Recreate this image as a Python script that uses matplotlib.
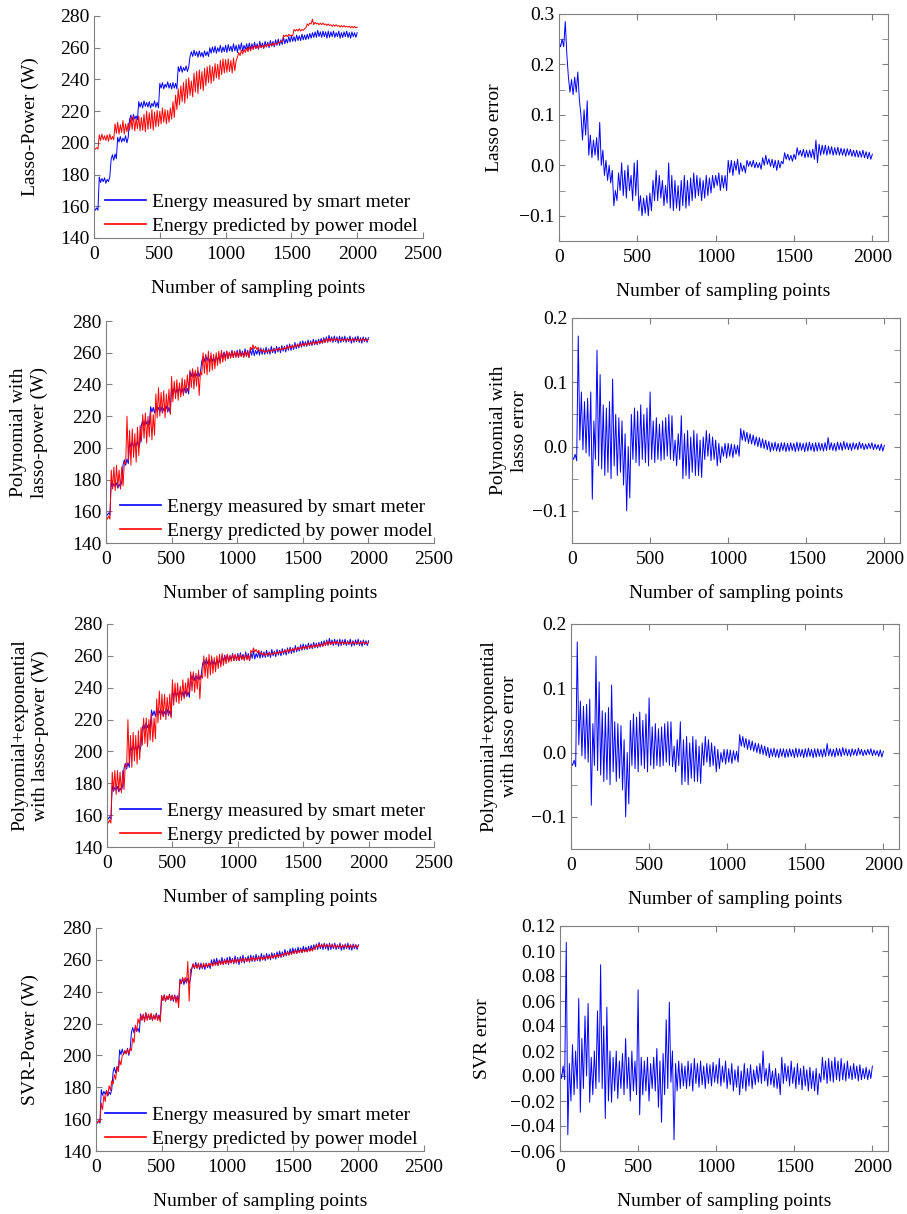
import matplotlib.pyplot as plt
import numpy as np

plt.rcParams['font.family'] = ['Liberation Serif', 'DejaVu Serif']

# Every series is read off the picture as an upper trace (at 0, 20, ... 2000)
# and a lower trace (at 10, 30, ... 1990) of its noisy band.
samples = np.arange(0, 2001, 10)

measured_hi = [
    159.5, 159, 178.5, 177.5, 178, 177, 178.5, 192.5, 193, 203.5,
    204, 203, 204.5, 203.5, 217.5, 218, 217, 226, 225.5, 226.5,
    225.5, 226, 225, 226.5, 225.5, 237.5, 238, 237, 238.5, 237.5,
    238, 237.5, 248, 248.5, 247.5, 248.5, 248, 257.5, 258.5, 257.5,
    258, 257, 258, 257.5, 260, 260.5, 261, 260, 261.5, 260.5,
    261.5, 262, 261, 262.5, 261.5, 262, 263, 261.5, 262.5, 263,
    262.5, 263.5, 262.5, 264, 263, 264, 263.5, 264.5, 264, 265,
    265.5, 265, 266.5, 265.5, 267, 267.5, 267, 268, 267.5, 268.5,
    268, 268.5, 269, 269.5, 270, 271, 270, 270.5, 270, 270.5,
    270, 270.5, 269.5, 270.5, 269.5, 270, 270.5, 269.5, 270, 269.5,
    269.5]
measured_lo = [
    157.5, 157.5, 175, 175.5, 174.5, 175.5, 189.5, 189, 190, 200.5,
    200.5, 201, 200, 214.5, 214, 215, 214.5, 222.5, 222, 223,
    222.5, 222, 223, 222.5, 222, 234.5, 234, 235, 234.5, 234,
    234.5, 234, 245, 244.5, 245.5, 245, 254.5, 254.5, 255, 254,
    254.5, 254, 255, 254.5, 256.5, 257, 256.5, 257.5, 257, 257.5,
    257, 258, 257.5, 258, 257, 258.5, 258, 259, 258.5, 259,
    259, 259.5, 259, 260, 259.5, 260.5, 260, 261, 260.5, 261.5,
    261.5, 262, 262.5, 263, 263.5, 264, 264, 264.5, 264.5, 265,
    265, 265.5, 266, 266.5, 266.5, 267, 266.5, 267, 266, 266.5,
    267, 266.5, 267, 266, 266.5, 267, 266.5, 266, 267, 266.5]

lasso_pred_hi = [
    197, 197, 205, 205.5, 204.5, 205, 205.5, 204, 212, 213,
    211.5, 214, 212, 212.5, 216, 217, 215.5, 217, 216, 218,
    220, 219, 221, 219.5, 220.5, 220, 222, 221, 220.5, 222,
    226, 230, 234, 236, 238, 240, 241, 239, 244, 245,
    246, 245, 247, 248, 249, 248, 250, 249.5, 252, 253,
    252.5, 253, 252, 253.5, 252, 257, 258.5, 259, 260, 260.5,
    261, 261.5, 261, 262, 261.5, 262, 262.5, 262.5, 263, 263,
    263.5, 264.5, 268, 268, 268.5, 268, 271.5, 271.5, 272, 271.5,
    272, 275, 275.5, 278, 276, 275.5, 275.5, 275.5, 275, 275,
    274.5, 274.5, 274.5, 274, 274, 274, 273.5, 273.5, 273.5, 273.5,
    273]
lasso_pred_lo = [
    196, 196, 201.5, 202, 201.5, 201, 202, 202, 206, 205.5,
    206.5, 205.5, 207, 208, 208.5, 207.5, 209, 207.5, 208, 207,
    208.5, 209, 208, 210, 210.5, 212, 213, 212, 213, 215,
    216, 221, 224, 226, 225, 228, 230, 229, 232, 231,
    234, 233, 236, 238, 237.5, 239, 241, 240, 243, 244,
    244.5, 245, 244, 245.5, 254, 255, 256, 257, 257.5, 258,
    259, 259.5, 259.5, 260, 260, 260.5, 261, 261, 261.5, 262,
    263, 263.5, 267, 267, 267.5, 267.5, 270.5, 270.5, 270.5, 271,
    272.5, 274, 275, 274.5, 275, 274.5, 274.5, 274.5, 274, 274,
    273.5, 273.5, 273.5, 273, 273, 273, 273, 272.5, 272.5, 272.5]

poly_pred_hi = [
    157, 157, 186, 188, 189, 186, 188, 191, 220, 211,
    212, 209, 213, 214, 221, 222, 220, 223, 221, 234,
    238, 235, 236, 234, 237, 245, 242, 243, 241, 244,
    243, 246, 249, 250, 249, 251, 248, 260, 259, 261,
    260, 259, 260, 261, 261.5, 260, 261, 260.5, 261, 261,
    260.5, 261, 260, 261, 260.5, 263.5, 265, 264, 263.5, 262,
    262, 261.5, 262, 261.5, 262.5, 262.5, 263, 263, 263.5, 264,
    264.5, 264.5, 265, 265.5, 265.5, 266, 266, 266.5, 266.5, 267,
    267, 267.5, 267.5, 268.5, 269, 269, 269, 269, 269, 268.5,
    269, 268.5, 269, 268.5, 269, 268.5, 269, 268.5, 269, 268.5,
    268.5]
poly_pred_lo = [
    155, 155, 174, 173, 175, 174, 176, 190, 192, 189,
    194, 191, 195, 204, 206, 203, 207, 205, 208, 219,
    220, 222, 219, 223, 221, 229, 231, 230, 232, 233,
    235, 236, 238, 237, 239, 233, 246, 247, 246, 248,
    249, 250, 252, 253, 254, 255, 256, 256.5, 257, 257,
    257, 257.5, 257, 257.5, 257, 262, 262.5, 262, 261, 260.5,
    260, 260.5, 260.5, 261, 261, 261.5, 261.5, 262, 262, 262.5,
    263, 263, 263.5, 264, 264, 264.5, 264.5, 265, 265, 265.5,
    265.5, 266, 266, 266.5, 267, 267, 267.5, 267.5, 267.5, 267.5,
    267.5, 267.5, 267.5, 267.5, 267.5, 267.5, 267.5, 267.5, 267.5, 267.5]

poly_exp_pred_hi = [
    157, 157, 187, 188, 188, 187, 188, 192, 220, 210,
    212, 210, 213, 215, 221, 221, 220, 224, 221, 233,
    238, 236, 236, 234, 236, 245, 243, 243, 241, 245,
    243, 246, 250, 250, 249, 251, 248, 260, 259, 261,
    260, 259, 260, 261, 261.5, 260, 261, 260.5, 261, 261,
    260.5, 261, 260, 261, 260.5, 263.5, 265, 264, 263.5, 262,
    262, 261.5, 262, 261.5, 262.5, 262.5, 263, 263, 263.5, 264,
    264.5, 264.5, 265, 265.5, 265.5, 266, 266, 266.5, 266.5, 267,
    267, 267.5, 267.5, 268.5, 269, 269, 269, 269, 269, 268.5,
    269, 268.5, 269, 268.5, 269, 268.5, 269, 268.5, 269, 268.5,
    268.5]
poly_exp_pred_lo = [
    155, 155, 175, 173, 175, 174, 176, 190, 192, 190,
    194, 192, 195, 204, 205, 203, 207, 206, 208, 218,
    220, 222, 220, 223, 221, 229, 231, 230, 232, 233,
    235, 236, 238, 237, 239, 233, 246, 247, 246, 248,
    249, 250, 252, 253, 254, 255, 256, 256.5, 257, 257,
    257, 257.5, 257, 257.5, 257, 262, 262.5, 262, 261, 260.5,
    260, 260.5, 260.5, 261, 261, 261.5, 261.5, 262, 262, 262.5,
    263, 263, 263.5, 264, 264, 264.5, 264.5, 265, 265, 265.5,
    265.5, 266, 266, 266.5, 267, 267, 267.5, 267.5, 267.5, 267.5,
    267.5, 267.5, 267.5, 267.5, 267.5, 267.5, 267.5, 267.5, 267.5, 267.5]

svr_pred_hi = [
    158.5, 159, 170, 175, 178, 181, 184, 188, 193, 197,
    200, 203, 204, 204.5, 211, 219, 223, 225, 226, 227,
    226, 226.5, 225.5, 226, 225, 237.5, 238, 237.5, 238, 238,
    237.5, 237, 247, 249, 249, 259, 254, 257.5, 257, 258,
    257, 258, 257.5, 258, 258, 259, 258.5, 259.5, 259.5, 260,
    260, 260, 260.5, 260.5, 260.5, 261, 261, 261, 261, 261.5,
    261.5, 261.5, 262, 262, 262, 262.5, 262.5, 263, 263, 263.5,
    263.5, 264, 264.5, 265, 265, 265.5, 266, 266, 266.5, 266.5,
    266.5, 267, 267, 268, 269.5, 270, 269.5, 270, 269.5, 269.5,
    269.5, 269.5, 269, 269.5, 269, 269.5, 269, 269.5, 269, 269.5,
    269]
svr_pred_lo = [
    157.5, 158, 166, 171, 175, 178, 182, 185, 190, 194,
    200.5, 201, 201, 203, 208, 215, 220, 222, 221, 222,
    222.5, 222, 222.5, 222, 221, 234.5, 234, 235, 234.5, 235,
    233, 230, 245, 246, 245.5, 234, 254.5, 255, 254.5, 255,
    255, 255.5, 255.5, 256, 256, 256.5, 256.5, 257, 257, 257.5,
    257.5, 258, 258, 258, 258.5, 258.5, 259, 259, 259, 259.5,
    259.5, 260, 260, 260, 260.5, 260.5, 261, 261, 261.5, 261.5,
    262, 262.5, 263, 263, 263.5, 264, 264, 264.5, 264.5, 265,
    265, 265.5, 265.5, 266.5, 267.5, 268, 268, 268, 268, 268,
    268, 267.5, 268, 267.5, 268, 267.5, 268, 267.5, 268, 267.5]

lasso_err_hi = [
    0.245, 0.25, 0.285, 0.175, 0.17, 0.175, 0.185, 0.1, 0.11, 0.128,
    0.06, 0.05, 0.055, 0.085, 0.03, 0.01, 0.0, -0.01, -0.05, -0.015,
    0.005, -0.01, 0.0, -0.02, 0.005, 0.01, -0.06, -0.065, -0.06, -0.055,
    -0.03, -0.01, -0.02, -0.03, -0.04, 0.005, -0.02, -0.03, -0.04, -0.03,
    -0.02, -0.03, -0.025, -0.015, -0.02, -0.025, -0.03, -0.02, -0.025, -0.02,
    -0.02, -0.015, -0.02, -0.02, 0.01, 0.01, 0.008, 0.012, 0.005, 0.0,
    0.01, 0.008, 0.01, 0.006, 0.005, 0.015, 0.02, 0.013, 0.012, 0.01,
    0.01, 0.008, 0.025, 0.022, 0.02, 0.022, 0.035, 0.03, 0.032, 0.03,
    0.03, 0.032, 0.05, 0.042, 0.04, 0.04, 0.038, 0.037, 0.035, 0.036,
    0.034, 0.033, 0.033, 0.032, 0.03, 0.03, 0.028, 0.03, 0.027, 0.026,
    0.022]
lasso_err_lo = [
    0.235, 0.235, 0.22, 0.145, 0.14, 0.145, 0.13, 0.05, 0.06, 0.02,
    0.015, 0.02, 0.01, 0.0, -0.02, -0.03, -0.035, -0.08, -0.07, -0.05,
    -0.06, -0.065, -0.05, -0.07, -0.06, -0.09, -0.1, -0.095, -0.1, -0.09,
    -0.07, -0.07, -0.065, -0.08, -0.075, -0.085, -0.09, -0.085, -0.09, -0.08,
    -0.085, -0.08, -0.07, -0.065, -0.06, -0.07, -0.065, -0.06, -0.055, -0.045,
    -0.04, -0.05, -0.045, -0.05, -0.015, -0.02, -0.01, -0.018, -0.012, -0.015,
    -0.002, -0.003, -0.005, -0.005, -0.008, 0.0, 0.002, -0.002, -0.005, -0.01,
    -0.005, 0.003, 0.012, 0.01, 0.008, 0.012, 0.02, 0.018, 0.015, 0.016,
    0.015, 0.012, 0.005, 0.02, 0.022, 0.02, 0.022, 0.02, 0.021, 0.02,
    0.02, 0.018, 0.02, 0.018, 0.017, 0.016, 0.016, 0.015, 0.013, 0.012]

poly_err_hi = [
    -0.015, -0.012, 0.172, 0.085, 0.07, 0.075, 0.085, 0.04, 0.15, 0.112,
    0.065, 0.06, 0.07, 0.105, 0.05, 0.045, 0.04, 0.02, 0.0, 0.05,
    0.06, 0.055, 0.065, 0.05, 0.06, 0.085, 0.04, 0.045, 0.035, 0.04,
    0.045, 0.05, 0.048, 0.01, 0.02, 0.048, 0.02, 0.025, 0.015, 0.025,
    0.02, 0.01, 0.015, 0.025, 0.02, 0.015, 0.01, 0.005, 0.0, 0.005,
    0.005, 0.004, 0.003, 0.002, 0.028, 0.025, 0.022, 0.02, 0.018, 0.015,
    0.014, 0.012, 0.01, 0.008, 0.006, 0.007, 0.005, 0.006, 0.006, 0.005,
    0.006, 0.005, 0.007, 0.006, 0.005, 0.006, 0.007, 0.005, 0.006, 0.006,
    0.005, 0.006, 0.014, 0.006, 0.005, 0.007, 0.006, 0.008, 0.006, 0.005,
    0.006, 0.005, 0.007, 0.005, 0.004, 0.005, 0.006, 0.004, 0.003, 0.004,
    0.002]
poly_err_lo = [
    -0.02, -0.022, 0.01, -0.005, -0.01, -0.015, -0.082, -0.02, -0.03, -0.035,
    -0.045, -0.04, -0.05, -0.03, -0.045, -0.04, -0.06, -0.1, -0.08, -0.02,
    -0.025, -0.03, -0.02, -0.025, -0.03, -0.02, -0.025, -0.02, -0.022, -0.02,
    -0.015, -0.02, -0.022, -0.03, -0.02, -0.05, -0.045, -0.05, -0.04, -0.045,
    -0.045, -0.048, -0.02, -0.015, -0.022, -0.02, -0.03, -0.025, -0.015, -0.018,
    -0.015, -0.017, -0.012, -0.015, 0.01, 0.008, 0.005, 0.004, 0.002, 0.0,
    -0.002, -0.003, -0.005, -0.008, -0.006, -0.007, -0.008, -0.006, -0.008, -0.007,
    -0.006, -0.008, -0.007, -0.006, -0.008, -0.007, -0.006, -0.008, -0.007, -0.006,
    -0.007, -0.006, -0.005, -0.006, -0.007, -0.005, -0.006, -0.004, -0.005, -0.006,
    -0.004, -0.005, -0.003, -0.005, -0.004, -0.003, -0.005, -0.004, -0.006, -0.007]

poly_exp_err_hi = [
    -0.015, -0.012, 0.172, 0.08, 0.072, 0.075, 0.083, 0.045, 0.15, 0.11,
    0.065, 0.062, 0.07, 0.105, 0.048, 0.045, 0.042, 0.02, 0.0, 0.05,
    0.06, 0.055, 0.063, 0.05, 0.06, 0.085, 0.04, 0.045, 0.037, 0.04,
    0.045, 0.048, 0.048, 0.01, 0.02, 0.048, 0.02, 0.025, 0.015, 0.025,
    0.02, 0.01, 0.015, 0.025, 0.02, 0.015, 0.01, 0.005, 0.0, 0.005,
    0.005, 0.004, 0.003, 0.002, 0.028, 0.025, 0.022, 0.02, 0.018, 0.015,
    0.014, 0.012, 0.01, 0.008, 0.006, 0.007, 0.005, 0.006, 0.006, 0.005,
    0.006, 0.005, 0.007, 0.006, 0.005, 0.006, 0.007, 0.005, 0.006, 0.006,
    0.005, 0.006, 0.014, 0.006, 0.005, 0.007, 0.006, 0.008, 0.006, 0.005,
    0.006, 0.005, 0.007, 0.005, 0.004, 0.005, 0.006, 0.004, 0.003, 0.004,
    0.002]
poly_exp_err_lo = [
    -0.02, -0.022, 0.012, -0.005, -0.01, -0.015, -0.082, -0.02, -0.028, -0.035,
    -0.045, -0.042, -0.05, -0.03, -0.045, -0.04, -0.058, -0.1, -0.08, -0.02,
    -0.025, -0.03, -0.02, -0.025, -0.03, -0.02, -0.025, -0.02, -0.022, -0.02,
    -0.015, -0.02, -0.022, -0.03, -0.02, -0.05, -0.045, -0.05, -0.04, -0.045,
    -0.045, -0.048, -0.02, -0.015, -0.022, -0.02, -0.03, -0.025, -0.015, -0.018,
    -0.015, -0.017, -0.012, -0.015, 0.01, 0.008, 0.005, 0.004, 0.002, 0.0,
    -0.002, -0.003, -0.005, -0.008, -0.006, -0.007, -0.008, -0.006, -0.008, -0.007,
    -0.006, -0.008, -0.007, -0.006, -0.008, -0.007, -0.006, -0.008, -0.007, -0.006,
    -0.007, -0.006, -0.005, -0.006, -0.007, -0.005, -0.006, -0.004, -0.005, -0.006,
    -0.004, -0.005, -0.003, -0.005, -0.004, -0.003, -0.005, -0.004, -0.006, -0.007]

svr_err_hi = [
    0.005, 0.008, 0.107, 0.01, 0.025, 0.02, 0.062, 0.03, 0.048, 0.058,
    0.015, 0.02, 0.052, 0.089, 0.04, 0.055, 0.02, 0.015, 0.02, 0.012,
    0.018, 0.03, 0.015, 0.02, 0.012, 0.069, 0.015, 0.012, 0.015, 0.01,
    0.015, 0.022, 0.012, 0.018, 0.045, 0.059, 0.02, 0.01, 0.012, 0.01,
    0.008, 0.012, 0.01, 0.014, 0.01, 0.012, 0.008, 0.01, 0.009, 0.011,
    0.009, 0.014, 0.008, 0.012, 0.006, 0.01, 0.005, 0.008, 0.004, 0.01,
    0.006, 0.009, 0.005, 0.008, 0.01, 0.02, 0.006, 0.01, 0.004, 0.006,
    0.002, 0.015, 0.01, 0.008, 0.012, 0.007, 0.01, 0.006, 0.008, 0.005,
    0.007, 0.004, 0.006, 0.002, 0.015, 0.012, 0.014, 0.012, 0.015, 0.012,
    0.014, 0.01, 0.012, 0.008, 0.01, 0.008, 0.009, 0.006, 0.007, 0.005,
    0.008]
svr_err_lo = [
    -0.002, -0.003, -0.047, -0.02, -0.015, -0.01, -0.029, -0.01, 0.0, -0.021,
    -0.015, -0.01, -0.005, -0.01, -0.034, -0.02, -0.021, -0.012, -0.018, -0.01,
    -0.015, -0.01, -0.02, -0.012, -0.015, -0.031, -0.015, -0.012, -0.02, -0.01,
    -0.012, -0.025, -0.037, -0.015, -0.01, -0.005, -0.051, -0.012, -0.01, -0.008,
    -0.01, -0.008, -0.012, -0.006, -0.009, -0.007, -0.01, -0.006, -0.008, -0.005,
    -0.006, -0.008, -0.005, -0.01, -0.007, -0.012, -0.009, -0.015, -0.01, -0.012,
    -0.008, -0.01, -0.007, -0.005, -0.006, -0.004, -0.008, -0.007, -0.009, -0.01,
    -0.015, -0.006, -0.004, -0.008, -0.006, -0.01, -0.007, -0.011, -0.008, -0.012,
    -0.01, -0.012, -0.015, -0.005, -0.003, -0.006, -0.004, -0.005, -0.003, -0.004,
    -0.003, -0.004, -0.002, -0.003, -0.002, -0.004, -0.003, -0.002, -0.003, -0.002]

FS = 14
GREY = '#808080'
W, H = 907, 1214


def zig(hi, lo):
    # upper trace on the even samples, lower trace on the odd ones
    y = np.empty(len(hi) + len(lo))
    y[0::2] = hi
    y[1::2] = lo
    return y


def rect(l, r, t, b):
    # pixel box -> figure fraction
    return [l / W, 1 - b / H, (r - l) / W, (b - t) / H]


def power_panel(fig, box, pred, ylabel, ylab_x, leg_x):
    ax = fig.add_axes(rect(*box))
    ax.plot(samples, zig(measured_hi, measured_lo), color='#0000ff', lw=0.7,
            label='Energy measured by smart meter')
    ax.plot(samples, pred, color='#ff0000', lw=0.7,
            label='Energy predicted by power model')
    ax.set_xlim(0, 2500)
    ax.set_ylim(140, 280)
    ax.set_xticks(range(0, 2501, 500))
    ax.set_yticks(range(140, 281, 20))
    ax.spines['top'].set_visible(False)
    ax.spines['right'].set_visible(False)
    for s in ['left', 'bottom']:
        ax.spines[s].set_color(GREY)
    ax.tick_params(direction='in', length=4, color=GREY, labelsize=FS)
    ax.tick_params(axis='x', pad=6)
    ax.set_ylabel(ylabel, fontsize=FS, va='center', linespacing=1.25)
    ax.yaxis.set_label_coords(ylab_x, 0.5)
    ax.set_xlabel('Number of sampling points', fontsize=FS, va='center')
    ax.xaxis.set_label_coords(0.5, -50 / (box[3] - box[2]))
    leg = ax.legend(loc='lower left', bbox_to_anchor=(leg_x, 0.015), frameon=False,
                    fontsize=FS, handlelength=2.1, handletextpad=0.3,
                    labelspacing=0.3, borderaxespad=0, borderpad=0)
    for h in leg.get_lines():
        h.set_linewidth(1.2)
    return ax


def error_panel(fig, box, err, ylabel, ylim, yticks, minor, ylab_x):
    ax = fig.add_axes(rect(*box))
    ax.plot(samples, err, color='#0000ff', lw=0.7)
    ax.set_xlim(0, 2100)
    ax.set_ylim(*ylim)
    ax.set_xticks(range(0, 2001, 500))
    ax.set_yticks(yticks)
    if minor:
        ax.set_yticks(np.arange(ylim[0], ylim[1] + 1e-9, minor), minor=True)
    for s in ax.spines.values():
        s.set_color(GREY)
    ax.tick_params(which='both', direction='in', length=4, color=GREY,
                   top=True, right=True, labelsize=FS)
    ax.tick_params(axis='x', pad=6)
    ax.set_ylabel(ylabel, fontsize=FS, va='center', linespacing=1.25)
    ax.yaxis.set_label_coords(ylab_x, 0.5)
    ax.set_xlabel('Number of sampling points', fontsize=FS, va='center')
    ax.xaxis.set_label_coords(0.5, -50 / (box[3] - box[2]))
    return ax


fig = plt.figure(figsize=(W / 100, H / 100), dpi=100)

power_panel(fig, (94, 423, 16, 238), zig(lasso_pred_hi, lasso_pred_lo),
            'Lasso-Power (W)', -0.195, 0.033)
error_panel(fig, (559, 888, 14, 241), zig(lasso_err_hi, lasso_err_lo),
            'Lasso error', (-0.15, 0.3), [-0.1, 0.0, 0.1, 0.2, 0.3], 0.05, -0.195)

power_panel(fig, (106, 434, 321, 543), zig(poly_pred_hi, poly_pred_lo),
            'Polynomial with\nlasso-power (W)', -0.235, 0.043)
error_panel(fig, (572, 900, 318, 543), zig(poly_err_hi, poly_err_lo),
            'Polynomial with\nlasso error', (-0.15, 0.2), [-0.1, 0.0, 0.1, 0.2],
            0.05, -0.192)

power_panel(fig, (107, 434, 624, 847), zig(poly_exp_pred_hi, poly_exp_pred_lo),
            'Polynomial+exponential\nwith lasso-power (W)', -0.235, 0.04)
error_panel(fig, (571, 899, 624, 849), zig(poly_exp_err_hi, poly_exp_err_lo),
            'Polynomial+exponential\nwith lasso error', (-0.15, 0.2),
            [-0.1, 0.0, 0.1, 0.2], 0.05, -0.218)

power_panel(fig, (96, 424, 928, 1151), zig(svr_pred_hi, svr_pred_lo),
            'SVR-Power (W)', -0.2, 0.027)
error_panel(fig, (560, 888, 926, 1151), zig(svr_err_hi, svr_err_lo),
            'SVR error', (-0.06, 0.12), np.round(np.arange(-0.06, 0.121, 0.02), 2),
            None, -0.235)

fig.savefig('out.png', dpi=100)
